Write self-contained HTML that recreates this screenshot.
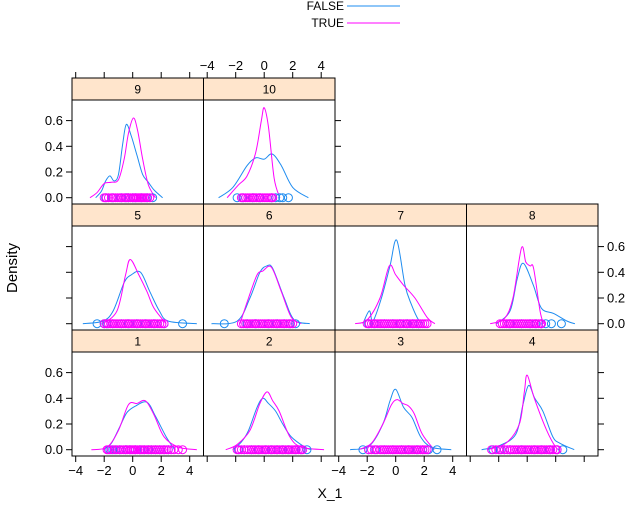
<!DOCTYPE html>
<html><head><meta charset="utf-8"><style>
body{margin:0;background:#fff}
svg{display:block;font-family:"Liberation Sans",Arial,sans-serif}
</style></head><body>
<svg id="chart" width="636" height="505"></svg>
<script>
const panelLabels=["1","2","3","4","5","6","7","8","9","10"];
const xTicks=[-4,-2,0,2,4];
const yTicks=[0,0.2,0.4,0.6];
const yTickLabels=["0.0","0.2","0.4","0.6"];
const groups=["FALSE","TRUE"];
const densFalse=[
[[-2.1,0],[-1.5,0.05],[-0.9,0.18],[-0.4,0.29],[0.2,0.34],[1.0,0.37],[1.6,0.26],[2.35,0.1],[2.95,0]],
[[-2.2,0],[-1.6,0.06],[-1.1,0.15],[-0.5,0.33],[-0.1,0.40],[0.3,0.36],[0.8,0.3],[1.3,0.2],[1.9,0.1],[2.85,0.02],[3.3,0]],
[[-3.2,0],[-1.85,0.03],[-0.9,0.2],[-0.4,0.38],[0,0.47],[0.55,0.33],[1.15,0.25],[1.75,0.1],[2.5,0.02],[3.9,0]],
[[-3.2,0],[-2.0,0.03],[-0.8,0.12],[-0.3,0.35],[0.1,0.50],[0.53,0.4],[1.1,0.3],[1.8,0.1],[2.3,0.05],[3.3,0]],
[[-3.5,0],[-2.1,0.02],[-1.37,0.1],[-0.6,0.32],[-0.1,0.38],[0.55,0.40],[1.2,0.25],[1.87,0.1],[2.5,0.02],[4.5,0]],
[[-3.7,0],[-1.9,0.02],[-1.0,0.2],[-0.3,0.4],[0.2,0.45],[0.6,0.43],[1.4,0.2],[2.1,0.03],[3.2,0]],
[[-2.3,0],[-1.85,0.1],[-1.6,0.02],[-1.0,0.2],[-0.4,0.45],[0.07,0.65],[0.65,0.3],[1.1,0.15],[1.6,0.03],[1.95,0]],
[[-2.15,0],[-1.2,0.1],[-0.7,0.35],[-0.27,0.47],[0.43,0.3],[1.0,0.12],[1.85,0.08],[2.8,0.02],[3.35,0]],
[[-2.6,0],[-2.2,0.05],[-1.9,0.13],[-1.6,0.17],[-1.3,0.13],[-1.0,0.18],[-0.7,0.42],[-0.45,0.57],[-0.1,0.48],[0.3,0.33],[0.7,0.18],[1.1,0.12],[1.5,0.06],[2.1,0]],
[[-3.2,0],[-2.2,0.08],[-1.2,0.25],[-0.6,0.31],[0,0.30],[0.56,0.34],[1.2,0.25],[2.0,0.08],[3.1,0]]
];
const densTrue=[
[[-2.9,0],[-1.8,0.02],[-1.0,0.15],[-0.3,0.35],[0.3,0.36],[0.9,0.38],[1.5,0.27],[2.2,0.1],[3.2,0.02],[4.5,0]],
[[-2.7,0],[-1.9,0.04],[-1.0,0.15],[-0.3,0.36],[0.2,0.45],[0.6,0.38],[1.05,0.3],[1.8,0.1],[2.6,0.02],[4.2,0]],
[[-2.6,0],[-1.7,0.05],[-0.9,0.2],[-0.3,0.35],[0.1,0.39],[0.5,0.36],[0.9,0.34],[1.3,0.28],[1.87,0.12],[2.7,0]],
[[-2.8,0],[-1.5,0.05],[-0.55,0.2],[-0.2,0.45],[0,0.58],[0.5,0.4],[1.37,0.15],[2.0,0.02],[2.3,0]],
[[-2.1,0],[-1.1,0.1],[-0.5,0.38],[-0.17,0.50],[0.43,0.38],[1.0,0.25],[1.5,0.12],[2.35,0]],
[[-1.7,0],[-1.1,0.2],[-0.5,0.38],[-0.1,0.41],[0.5,0.44],[1.2,0.25],[1.9,0.05],[2.6,0]],
[[-2.85,0],[-2.0,0.03],[-1.1,0.2],[-0.45,0.45],[0.0,0.38],[0.55,0.3],[1.35,0.2],[2.2,0.05],[2.75,0]],
[[-2.6,0],[-1.6,0.04],[-1.0,0.2],[-0.4,0.59],[-0.1,0.48],[0.2,0.45],[0.45,0.43],[0.9,0.1],[1.15,0]],
[[-3.0,0],[-2.5,0.04],[-2.0,0.11],[-1.5,0.12],[-1.0,0.14],[-0.6,0.3],[-0.3,0.5],[0.05,0.62],[0.35,0.52],[0.7,0.3],[1.1,0.1],[1.6,0]],
[[-2.6,0],[-1.8,0.1],[-1.2,0.17],[-0.6,0.35],[-0.2,0.6],[0,0.7],[0.3,0.55],[0.7,0.15],[1.1,0]]
];
const rugFalse=[
[-1.6,-1.4,-1.2,-0.9,-0.5,-0.2,0.2,0.5,0.8,1.1,1.3,1.6,1.9,2.2,2.5],
[-1.8,-1.4,-0.9,-0.4,0.1,0.5,0.9,1.3,1.7,2.2,2.6,3.0],
[-2.3,-1.9,-1.4,-0.8,-0.2,0.4,0.9,1.5,1.9,2.3,2.9],
[-2.4,-1.9,-1.6,-1.2,-0.4,0.5,1.0,1.6,2.1,2.5],
[-2.5,-2.0,-1.8,-1.4,-0.8,-0.3,0.3,0.9,1.5,2.2,3.5],
[-2.8,-1.2,-0.6,0.3,0.9,1.4,1.8,2.2],
[-1.9,-1.5,-0.8,-0.2,0.3,0.8,1.2,1.6],
[-1.2,-0.4,0.2,0.6,1.0,1.3,1.7,2.4],
[-1.9,-1.4,-0.8,-0.5,-0.3,0,0.2,0.6,1.0,1.4],
[-1.9,-1.5,-0.8,-0.3,0.5,0.8,1.1,1.3,1.7]
];
const rugTrue=[
[-1.8,-1.7,-1.5,-1.3,-1.1,-0.95,-0.8,-0.65,-0.5,-0.35,-0.2,-0.1,0,0.1,0.2,0.35,0.5,0.6,0.7,0.85,1.0,1.15,1.3,1.45,1.6,1.75,1.9,2.05,2.2,2.35,2.5,2.7,2.9,3.2,3.5],
[-1.9,-1.75,-1.6,-1.4,-1.2,-1.05,-0.9,-0.75,-0.6,-0.45,-0.3,-0.15,0,0.15,0.3,0.45,0.6,0.75,0.9,1.05,1.2,1.35,1.5,1.65,1.8,1.95,2.1,2.25,2.4,2.55,2.7],
[-1.9,-1.7,-1.5,-1.3,-1.1,-0.95,-0.8,-0.65,-0.5,-0.35,-0.2,-0.05,0.1,0.25,0.4,0.55,0.7,0.85,1.0,1.15,1.3,1.45,1.6,1.75,1.9,2.05,2.2],
[-2.5,-2.2,-2.0,-1.8,-1.6,-1.4,-1.2,-1.05,-0.9,-0.75,-0.6,-0.45,-0.3,-0.15,0,0.15,0.3,0.45,0.6,0.75,0.9,1.05,1.2,1.35,1.5,1.65,1.8,2.0,2.1],
[-2.0,-1.85,-1.7,-1.55,-1.4,-1.25,-1.1,-0.95,-0.8,-0.65,-0.5,-0.35,-0.2,-0.05,0.1,0.25,0.4,0.55,0.7,0.85,1.0,1.15,1.3,1.45,1.6,1.75,1.9,2.05,2.2],
[-1.6,-1.45,-1.3,-1.15,-1.0,-0.85,-0.7,-0.55,-0.4,-0.25,-0.1,0.05,0.2,0.35,0.5,0.65,0.8,0.95,1.1,1.25,1.4,1.55,1.7,1.85,2.0],
[-2.0,-1.85,-1.7,-1.55,-1.4,-1.25,-1.1,-0.95,-0.8,-0.65,-0.5,-0.35,-0.2,-0.05,0.1,0.25,0.4,0.55,0.7,0.85,1.0,1.15,1.3,1.45,1.6,1.75,1.9,2.05,2.2],
[-1.9,-1.75,-1.6,-1.45,-1.3,-1.15,-1.0,-0.85,-0.7,-0.55,-0.4,-0.25,-0.1,0.05,0.2,0.35,0.5,0.65,0.8,0.95,1.0],
[-2.0,-1.85,-1.7,-1.5,-1.35,-1.2,-1.05,-0.9,-0.75,-0.6,-0.45,-0.3,-0.15,0,0.1,0.2,0.3,0.4,0.5,0.6,0.7,0.8,0.9,1.05,1.2],
[-1.6,-1.45,-1.3,-1.15,-1.0,-0.85,-0.7,-0.55,-0.4,-0.25,-0.1,0.05,0.2,0.35,0.5,0.6]
];
const colors=["#1e8cf0","#ff00ff"];

const NS="http://www.w3.org/2000/svg";
const svg=document.getElementById("chart");
const colL=[72,203.5,335,466.5], W=131.5;
const rowT=[78,204,330], stripH=22, panelH=104;
function mk(tag,attrs,parent){const e=document.createElementNS(NS,tag);for(const k in attrs)e.setAttribute(k,attrs[k]);(parent||svg).appendChild(e);return e;}
function xS(col,v){return colL[col]+60.7+v*14.25;}
function yS(row,v){return rowT[row]+stripH+panelH-6.3-v*128.5;}
function pos(p){const i=p-1;return {row:2-Math.floor(i/4),col:i%4};}
function smooth(pts){let d="M"+pts[0][0]+","+pts[0][1];for(let i=0;i<pts.length-1;i++){const p0=pts[Math.max(0,i-1)],p1=pts[i],p2=pts[i+1],p3=pts[Math.min(pts.length-1,i+2)];const c1x=p1[0]+(p2[0]-p0[0])/6,c1y=p1[1]+(p2[1]-p0[1])/6,c2x=p2[0]-(p3[0]-p1[0])/6,c2y=p2[1]-(p3[1]-p1[1])/6;d+=" C"+c1x+","+c1y+" "+c2x+","+c2y+" "+p2[0]+","+p2[1];}return d;}

const lg=mk("g",{});


groups.forEach((g,i)=>{
  const t=mk("text",{x:344,y:10+i*17,"text-anchor":"end","font-size":12,fill:"#000"},lg);t.textContent=g;
  
  
  const l=mk("line",{x1:347,x2:400,y1:6+i*17,y2:6+i*17,stroke:colors[i],"stroke-width":1},lg);
  
  
});

for(let p=1;p<=10;p++){
  const {row,col}=pos(p);
  const g=mk("g",{});
  
  
  const x0=colL[col],y0=rowT[row];
  const st=mk("rect",{x:x0,y:y0,width:W,height:stripH,fill:"#ffe5cc",stroke:"#000","stroke-width":1},g);
  
  
  const stt=mk("text",{x:x0+W/2,y:y0+15.5,"text-anchor":"middle","font-size":12},g);stt.textContent=panelLabels[p-1];
  
  
  const cid="clip"+p;
  const cp=mk("clipPath",{id:cid},g);mk("rect",{x:x0,y:y0+stripH,width:W,height:panelH},cp);
  const inner=mk("g",{"clip-path":"url(#"+cid+")"},g);
  [densFalse,densTrue].forEach((ds,gi)=>{
    const pts=ds[p-1].map(d=>[xS(col,d[0]),yS(row,d[1])]);
    const path=mk("path",{d:smooth(pts),fill:"none",stroke:colors[gi],"stroke-width":1},inner);
    
    
  });
  [rugFalse,rugTrue].forEach((rs,gi)=>{
    rs[p-1].forEach(v=>{
      const c=mk("circle",{cx:xS(col,v),cy:yS(row,0),r:4,fill:"none",stroke:colors[gi],"stroke-width":1},inner);
      
      
    });
  });
  const fr=mk("rect",{x:x0,y:y0+stripH,width:W,height:panelH,fill:"none",stroke:"#000","stroke-width":1},g);
  
  
}

function yAxis(row,x,dir,labels,name){
  const g=mk("g",{});
  
  
  yTicks.forEach((v,i)=>{
    const y=yS(row,v);
    mk("line",{x1:x,x2:x+dir*6,y1:y,y2:y,stroke:"#000"},g);
    if(labels){const t=mk("text",{x:x+dir*9,y:y+4.5,"text-anchor":dir<0?"end":"start","font-size":13},g);t.textContent=yTickLabels[i];}
  });
}
function xAxis(col,y,dir,labels,name){
  const g=mk("g",{});
  
  
  xTicks.forEach(v=>{
    const x=xS(col,v);
    mk("line",{x1:x,x2:x,y1:y,y2:y+dir*6,stroke:"#000"},g);
    if(labels){const t=mk("text",{x:x,y:dir>0?y+19:y-8,"text-anchor":"middle","font-size":13},g);t.textContent=(v<0?"\u2212":"")+Math.abs(v);}
  });
}
yAxis(0,72,-1,true,"y-axis-left-top");
yAxis(1,72,-1,false,"y-axis-left-middle");
yAxis(2,72,-1,true,"y-axis-left-bottom");
yAxis(0,335,1,false,"y-axis-right-top");
yAxis(1,598,1,true,"y-axis-right-middle");
yAxis(2,598,1,false,"y-axis-right-bottom");
const bY=rowT[2]+stripH+panelH;
xAxis(0,bY,1,true,"x-axis-bottom-1");
xAxis(1,bY,1,false,"x-axis-bottom-2");
xAxis(2,bY,1,true,"x-axis-bottom-3");
xAxis(3,bY,1,false,"x-axis-bottom-4");
xAxis(0,rowT[0],-1,false,"x-axis-top-1");
xAxis(1,rowT[0],-1,true,"x-axis-top-2");

const xt=mk("text",{x:330,y:498,"text-anchor":"middle","font-size":14});xt.textContent="X_1";


const yt=mk("text",{x:17,y:268,"text-anchor":"middle","font-size":15,transform:"rotate(-90 17 268)"});yt.textContent="Density";


</script>
</body></html>
